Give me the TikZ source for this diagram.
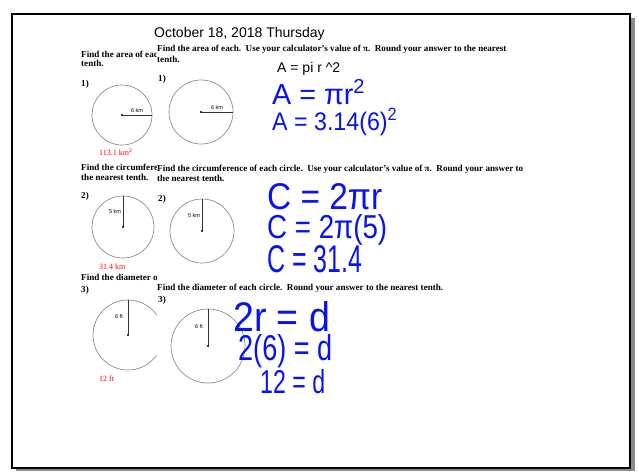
\documentclass[tikz,border=0pt]{standalone}
\usepackage{fontspec}
\setmainfont{Liberation Serif}
\setsansfont{Liberation Sans}
\usepackage{graphicx}
\usetikzlibrary{positioning}
\definecolor{penblue}{RGB}{8,18,240}
\tikzset{
  sheet/.style  = {anchor=base west, inner sep=0pt,
                   font=\fontsize{9.1}{10}\selectfont\bfseries},
  ans/.style    = {anchor=base west, inner sep=0pt, text=red,
                   font=\fontsize{8}{9}\selectfont},
  tag/.style    = {inner sep=0pt, font=\sffamily\fontsize{5.5}{6}\selectfont},
  ring/.style   = {draw=black!45, line width=0.7pt},
  rad/.style    = {draw=black!80, line width=0.7pt},
  typed/.style  = {anchor=base west, inner sep=0pt,
                   font=\sffamily\fontsize{14}{16}\selectfont},
  pen/.style    = {anchor=base west, inner sep=0pt, text=penblue,
                   font=\sffamily\fontsize{24}{26}\selectfont},
}
% handwriting: width and height above the baseline, in px
\newcommand\hand[3]{\resizebox{#1pt}{#2pt}{#3}}
\newcommand\areatxt{Find the area of each.\ \ Use your calculator's value of π.\ \ Round your answer to the nearest}
\newcommand\circtxt{Find the circumference of each circle.\ \ Use your calculator's value of π.\ \ Round your answer to}
\newcommand\diamtxt{Find the diameter of each circle.\ \ Round your answer to the nearest tenth.}

\begin{document}
\begin{tikzpicture}[x=1pt, y=-1pt]
  \useasboundingbox (0,0) rectangle (639,471);
  % page frame with shadow
  \fill[black!45] (16,468) rectangle (635,471);
  \fill[black!45] (631,18) rectangle (635,471);
  \draw[line width=1.6pt] (12,14) rectangle (630,468);

  \node[typed] (title) at (154,37) {October 18, 2018 Thursday};
  \node[typed] (formula) at (277,72) {A = pi r \^{}2};

  % left copy of the sheet, cut off at the edge of the right copy
  \begin{scope}
    \clip (75,40) rectangle (156.5,400);
    \node[sheet] (headAL) at (81,57.5) {\areatxt};
    \node[sheet] (tenAL) at (81,66.5) {tenth.};
    \node[sheet] (numAL) at (81,86) {1)};
    \coordinate (cAL) at (122,115);
    \draw[ring] (cAL) circle[radius=30];
    \draw[rad] (cAL) -- ++(30,0) coordinate (eAL);
    \fill (cAL) circle[radius=1.2];
    \node[tag] (lAL) at (137,110.5) {6 km};
    \node[ans] (ansA) at (99,155) {113.1 km\textsuperscript{2}};

    \node[sheet] (headCL) at (81,170.5) {\circtxt};
    \node[sheet] (tenCL) at (81,180.5) {the nearest tenth.};
    \node[sheet] (numCL) at (81,198.5) {2)};
    \coordinate (cCL) at (123,227);
    \draw[ring] (cCL) circle[radius=31];
    \draw[rad] (cCL) -- ++(0,-31) coordinate (eCL);
    \fill (cCL) circle[radius=1.2];
    \node[tag] (lCL) at (115,212) {5 km};
    \node[ans] (ansC) at (99,269) {31.4 km};

    \node[sheet] (headDL) at (81,280.5) {\diamtxt};
    \node[sheet] (numDL) at (81,292) {3)};
    \coordinate (cDL) at (128,335);
    \draw[ring] (cDL) circle[radius=35];
    \draw[rad] (cDL) -- ++(0,-35) coordinate (eDL);
    \fill (cDL) circle[radius=1.2];
    \node[tag] (lDL) at (119,317) {6 ft};
    \node[ans] (ansD) at (99,381) {12 ft};
  \end{scope}

  % right copy of the sheet
  \node[sheet] (headAR) at (157,51.5) {\areatxt};
  \node[sheet] (tenAR) at (157,62) {tenth.};
  \node[sheet] (numAR) at (158,81) {1)};
  \coordinate (cAR) at (201,112);
  \draw[ring] (cAR) circle[radius=32];
  \draw[rad] (cAR) -- ++(32,0) coordinate (eAR);
  \fill (cAR) circle[radius=1.2];
  \node[tag] (lAR) at (217,108) {6 km};

  \node[sheet] (headCR) at (157,171) {\circtxt};
  \node[sheet] (tenCR) at (157,181.5) {the nearest tenth.};
  \node[sheet] (numCR) at (158,201.5) {2)};
  \coordinate (cCR) at (202,231);
  \draw[ring] (cCR) circle[radius=32];
  \draw[rad] (cCR) -- ++(0,-32) coordinate (eCR);
  \fill (cCR) circle[radius=1.2];
  \node[tag] (lCR) at (194,216) {5 km};

  \node[sheet] (headDR) at (157,290.5) {\diamtxt};
  \node[sheet] (numDR) at (158,302) {3)};
  \coordinate (cDR) at (208,346);
  \draw[ring] (cDR) circle[radius=37];
  \draw[rad] (cDR) -- ++(0,-37) coordinate (eDR);
  \fill (cDR) circle[radius=1.2];
  \node[tag] (lDR) at (199,327) {6 ft};

  % handwriting
  \node[pen] (penA1) at (272,104) {\hand{93}{25}{A = πr\textsuperscript{2}}};
  \node[pen] (penA2) at (272,130) {\hand{125}{22}{A = 3.14(6)\textsuperscript{2}}};
  \node[pen] (penC1) at (267,209) {\hand{115}{26}{C = 2πr}};
  \node[pen] (penC2) at (267,238) {\hand{120}{24}{C = 2π(5)}};
  \node[pen] (penC3) at (267,272) {\hand{95}{27}{C = 31.4}};
  \node[pen] (penD1) at (233,331) {\hand{97}{30}{2r = d}};
  \node[pen] (penD2) at (238,360) {\hand{94}{26}{2(6) = d}};
  \node[pen] (penD3) at (260,393) {\hand{65}{24}{12 = d}};
\end{tikzpicture}
\end{document}
